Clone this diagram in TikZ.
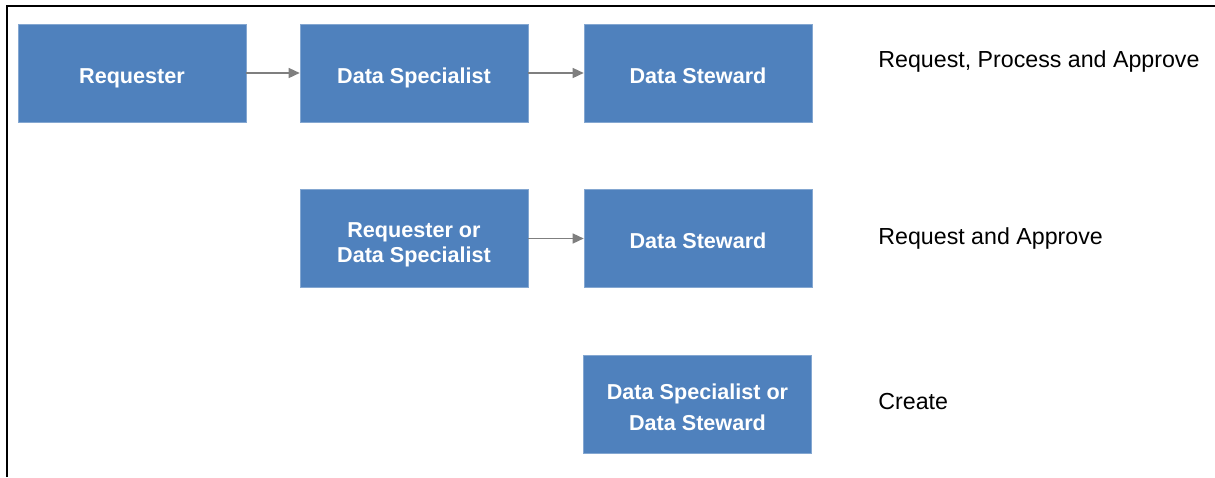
\documentclass[tikz,border=0pt]{standalone}
\usepackage{fontspec}
\setmainfont{Liberation Sans}
\usepackage{xcolor}
\usetikzlibrary{arrows.meta}
\definecolor{boxblue}{HTML}{4F81BD}
\definecolor{arrowgray}{HTML}{7F7F7F}

\begin{document}
\begin{tikzpicture}[x=0.5pt, y=-0.5pt,
    rolebox/.style={fill=boxblue, draw=boxblue!70!white, line width=0.3pt, minimum width=114pt, minimum height=49pt, inner sep=0pt, text=white, align=center, text depth=0pt, text height=10.3pt, font=\fontsize{10.8}{12.5}\selectfont\bfseries},
    flowarrow/.style={draw=arrowgray, line width=0.7pt, -{Triangle[length=5.5pt, width=5pt, fill=arrowgray]}},
    steplabel/.style={anchor=west, inner sep=0pt, font=\fontsize{11.6}{14}\selectfont}]
        \useasboundingbox (0,0) rectangle (1215,477);

        %RAND
        \draw[black, line width=1pt] (7,477) -- (7,6) -- (1215,6);

        %BARIS 1
        \node[rolebox] (req) at (132,73) {Requester};
        \node[rolebox] (spec) at (414,73) {Data Specialist};
        \node[rolebox] (stew) at (698,73) {Data Steward};
        \draw[flowarrow] (req) -- (spec);
        \draw[flowarrow] (spec) -- (stew);
        \node[steplabel] (lblone) at (878,61) {Request, Process and Approve};

        %BARIS 2
        \node[rolebox, text height=24.2pt] (reqspec) at (414,238.5) {Requester or\\Data Specialist};
        \node[rolebox] (stewtwo) at (698,238.5) {Data Steward};
        \draw[flowarrow] (reqspec) -- (stewtwo);
        \node[steplabel] (lbltwo) at (878,238) {Request and Approve};

        %BARIS 3
        \node[rolebox, text height=26.7pt] (specstew) at (697.5,404) {Data Specialist or\\[3pt]Data Steward};
        \node[steplabel] (lblthree) at (878,402) {Create};
    \end{tikzpicture}
\end{document}
